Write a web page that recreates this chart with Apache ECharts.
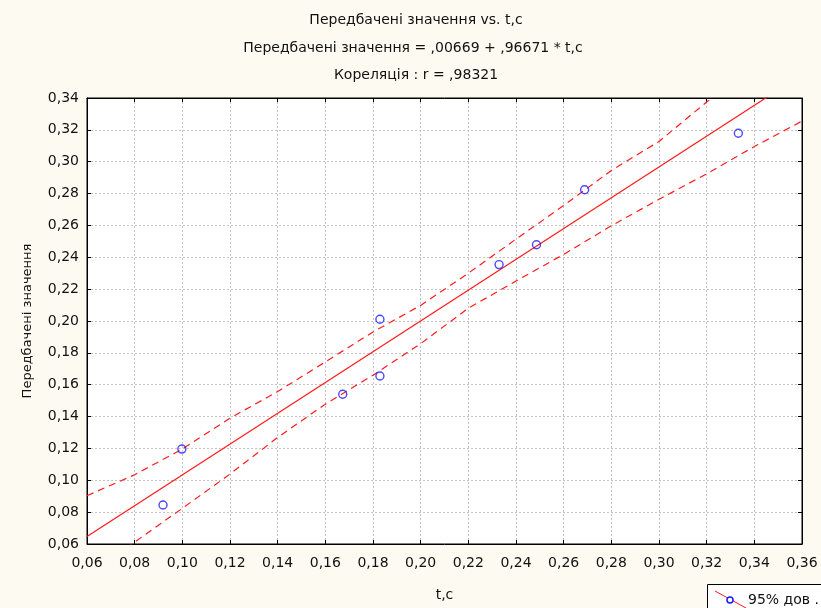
<!DOCTYPE html>
<html>
<head>
<meta charset="utf-8">
<script src="https://cdn.jsdelivr.net/npm/echarts@6/dist/echarts.min.js"></script>
<style>
  html, body { margin: 0; padding: 0; background: #fdfbf1; }
  #chart { width: 821px; height: 608px; }
</style>
</head>
<body>
<div id="chart"></div>
<script>
// Regression fit: predicted = intercept + slope * t,c
const intercept = 0.00669;
const slope = 0.96671;
const correlation = 0.98321;

// Observed points (t,c ; predicted value)
const tcValues        = [0.0919, 0.0998, 0.1673, 0.1829, 0.1829, 0.2329, 0.2486, 0.2688, 0.3333];
const predictedValues = [0.0845, 0.1196, 0.1540, 0.1655, 0.2011, 0.2354, 0.2479, 0.2824, 0.3179];

// 95% confidence band, sampled at the x ticks
const bandX     = [0.06, 0.08, 0.10, 0.12, 0.14, 0.16, 0.18, 0.20, 0.22, 0.24, 0.26, 0.28, 0.30, 0.32, 0.34, 0.36];
const bandUpper = [0.0903, 0.1035, 0.1196, 0.1390, 0.1557, 0.1743, 0.1931, 0.2098, 0.2300, 0.2514, 0.2725, 0.2945, 0.3127, 0.3375, 0.3600, 0.3830];
const bandLower = [0.0400, 0.0612, 0.0824, 0.1039, 0.1269, 0.1478, 0.1660, 0.1858, 0.2080, 0.2251, 0.2418, 0.2598, 0.2764, 0.2924, 0.3095, 0.3255];

// Axis range
const xRange = [0.06, 0.36];
const yRange = [0.06, 0.34];
const step = 0.02;

const comma = v => v.toFixed(2).replace('.', ',');
const coef = (v, d) => v.toFixed(d).replace(/^0\./, ',');

const titleLines = [
  'Передбачені значення vs. t,c',
  'Передбачені значення = ' + coef(intercept, 5) + ' + ' + coef(slope, 5) + ' * t,c',
  'Кореляція : r = ' + coef(correlation, 5)
];

const FONT = 'DejaVu Sans';
const FS = 14;
const chart = echarts.init(document.getElementById('chart'), null, { renderer: 'canvas' });

const pts = tcValues.map((x, i) => [x, predictedValues[i]]);
const fitLine = xRange.map(x => [x, intercept + slope * x]);
const upper = bandX.map((x, i) => [x, bandUpper[i]]);
const lower = bandX.map((x, i) => [x, bandLower[i]]);

const gridLine = { show: true, lineStyle: { color: '#c4c4c4', type: [2, 2], width: 1 } };
const labelStyle = { color: '#111', fontFamily: FONT, fontSize: FS };
const red = '#ff1a1a';

chart.setOption({
  backgroundColor: '#fdfbf1',
  animation: false,
  grid: {
    left: 87, right: 19, top: 98, bottom: 64,
    show: true, backgroundColor: '#ffffff', borderColor: '#000', borderWidth: 1
  },
  xAxis: [{
    type: 'value', min: xRange[0], max: xRange[1], interval: step,
    name: 't,c', nameLocation: 'middle', nameGap: 44,
    nameTextStyle: { color: '#111', fontFamily: FONT, fontSize: FS },
    axisLine: { show: true, lineStyle: { color: '#000' } },
    axisTick: { show: true, inside: true, length: 4, lineStyle: { color: '#000' } },
    axisLabel: Object.assign({ margin: 12, formatter: comma }, labelStyle),
    splitLine: gridLine
  }, {
    type: 'value', position: 'top', min: xRange[0], max: xRange[1], interval: step,
    axisLine: { show: true, lineStyle: { color: '#000' } },
    axisTick: { show: true, inside: true, length: 4, lineStyle: { color: '#000' } },
    axisLabel: { show: false }, splitLine: { show: false }
  }],
  yAxis: [{
    type: 'value', min: yRange[0], max: yRange[1], interval: step,
    name: 'Передбачені значення', nameLocation: 'middle', nameGap: 53, nameRotate: 90,
    nameTextStyle: { color: '#111', fontFamily: FONT, fontSize: FS - 1 },
    axisLine: { show: true, lineStyle: { color: '#000' } },
    axisTick: { show: true, inside: true, length: 4, lineStyle: { color: '#000' } },
    axisLabel: Object.assign({ margin: 8, formatter: comma }, labelStyle),
    splitLine: gridLine
  }, {
    type: 'value', position: 'right', min: yRange[0], max: yRange[1], interval: step,
    axisLine: { show: true, lineStyle: { color: '#000' } },
    axisTick: { show: true, inside: true, length: 4, lineStyle: { color: '#000' } },
    axisLabel: { show: false }, splitLine: { show: false }
  }],
  series: [
    {
      name: 'upper', type: 'line', data: upper, symbol: 'none', clip: true,
      lineStyle: { color: red, width: 1.2, type: [7, 5] }, z: 3
    },
    {
      name: 'lower', type: 'line', data: lower, symbol: 'none', clip: true,
      lineStyle: { color: red, width: 1.2, type: [7, 5] }, z: 3
    },
    {
      name: 'fit', type: 'line', data: fitLine, symbol: 'none', clip: true,
      lineStyle: { color: red, width: 1.2 }, z: 3
    },
    {
      name: 'points', type: 'scatter', data: pts, symbol: 'circle', symbolSize: 8,
      itemStyle: { color: 'rgba(0,0,0,0)', borderColor: '#1a1aff', borderWidth: 1.4 }, z: 5
    }
  ],
  graphic: [
    { type: 'text', x: 416, y: 20, style: { text: titleLines[0], align: 'center', verticalAlign: 'middle', fill: '#111', font: FS + 'px "' + FONT + '"' } },
    { type: 'text', x: 413, y: 48, style: { text: titleLines[1], align: 'center', verticalAlign: 'middle', fill: '#111', font: FS + 'px "' + FONT + '"' } },
    { type: 'text', x: 416, y: 75, style: { text: titleLines[2], align: 'center', verticalAlign: 'middle', fill: '#111', font: FS + 'px "' + FONT + '"' } },
    // legend box (runs past the lower-right edge)
    { type: 'rect', shape: { x: 707.5, y: 584.5, width: 140, height: 40 }, style: { fill: '#ffffff', stroke: '#000', lineWidth: 1 } },
    { type: 'line', shape: { x1: 715, y1: 591, x2: 746, y2: 608 }, style: { stroke: red, lineWidth: 1 } },
    { type: 'circle', shape: { cx: 730, cy: 600, r: 3 }, style: { fill: '#ffffff', stroke: '#1a1aff', lineWidth: 1.5 } },
    { type: 'text', x: 748, y: 600, style: { text: '95% дов .', align: 'left', verticalAlign: 'middle', fill: '#111', font: FS + 'px "' + FONT + '"' } }
  ]
});
</script>
</body>
</html>
